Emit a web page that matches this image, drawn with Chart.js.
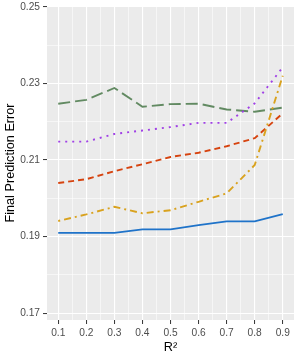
<!DOCTYPE html>
<html>
<head>
<meta charset="utf-8">
<script src="https://cdn.jsdelivr.net/npm/chart.js@4"></script>
<style>
  html, body { margin: 0; padding: 0; background: #fff; }
  canvas { display: block; }
</style>
</head>
<body>
<canvas id="fpeChart" width="300" height="360"></canvas>
<script>
// values
const r2 = [0.1, 0.2, 0.3, 0.4, 0.5, 0.6, 0.7, 0.8, 0.9];
const blueSolid = [0.1910, 0.1910, 0.1910, 0.1919, 0.1919, 0.1930, 0.1940, 0.1940, 0.1959];
const orangeDotDash = [0.1941, 0.1958, 0.1978, 0.1961, 0.1969, 0.1991, 0.2013, 0.2087, 0.2320];
const redDashed = [0.2040, 0.2050, 0.2071, 0.2089, 0.2108, 0.2119, 0.2136, 0.2157, 0.2222];
const purpleDotted = [0.2148, 0.2148, 0.2168, 0.2177, 0.2186, 0.2197, 0.2197, 0.2248, 0.2342];
const greenLongDash = [0.2247, 0.2257, 0.2288, 0.2239, 0.2246, 0.2247, 0.2232, 0.2226, 0.2237];

const xMajor = [0.1, 0.2, 0.3, 0.4, 0.5, 0.6, 0.7, 0.8, 0.9];
const xMajorLabels = ["0.1", "0.2", "0.3", "0.4", "0.5", "0.6", "0.7", "0.8", "0.9"];
const xMinor = [0.15, 0.25, 0.35, 0.45, 0.55, 0.65, 0.75, 0.85];
const yMajor = [0.17, 0.19, 0.21, 0.23, 0.25];
const yMajorLabels = ["0.17", "0.19", "0.21", "0.23", "0.25"];
const yMinor = [0.18, 0.20, 0.22, 0.24];

const toPoints = (ys) => r2.map((x, i) => ({ x: x, y: ys[i] }));

const isMajor = (list, v) => list.some((m) => Math.abs(m - v) < 1e-9);

const panelBg = {
  id: "panelBg",
  beforeDraw(chart) {
    const { ctx, chartArea: a } = chart;
    ctx.save();
    ctx.fillStyle = "#EBEBEB";
    ctx.fillRect(a.left, a.top, a.right - a.left, a.bottom - a.top);
    ctx.restore();
  },
};

const series = (data, color, dash) => ({
  data: toPoints(data),
  borderColor: color,
  borderWidth: 1.9,
  borderDash: dash,
  borderCapStyle: "butt",
  pointRadius: 0,
  tension: 0,
  fill: false,
});

new Chart(document.getElementById("fpeChart").getContext("2d"), {
  type: "line",
  data: {
    datasets: [
      series(blueSolid, "#1F73C9", []),
      series(orangeDotDash, "#D9A21E", [2, 4, 7, 4]),
      series(redDashed, "#D6430F", [6, 4]),
      series(purpleDotted, "#A040E6", [2, 5]),
      series(greenLongDash, "#628A62", [12, 5]),
    ],
  },
  plugins: [panelBg],
  options: {
    responsive: false,
    animation: false,
    layout: { padding: { left: 0, top: 6, right: 6, bottom: 0 } },
    plugins: { legend: { display: false }, tooltip: { enabled: false } },
    scales: {
      x: {
        type: "linear",
        min: 0.06,
        max: 0.94,
        afterFit: (scale) => {
          scale.height = 40;
          scale.paddingLeft = 0;
          scale.paddingRight = 0;
        },
        afterBuildTicks: (scale) => {
          scale.ticks = xMajor.concat(xMinor).sort((a, b) => a - b).map((v) => ({ value: v }));
        },
        border: { display: false },
        grid: {
          color: "#FFFFFF",
          lineWidth: (c) => (isMajor(xMajor, c.tick.value) ? 1.1 : 0.55),
          tickColor: (c) => (isMajor(xMajor, c.tick.value) ? "#333333" : "rgba(0,0,0,0)"),
          tickLength: 4,
          tickWidth: 1,
        },
        ticks: {
          autoSkip: false,
          maxRotation: 0,
          padding: 3,
          color: "#4D4D4D",
          font: { family: "'Liberation Sans', Arial, sans-serif", size: 10.2 },
          callback: (v) => {
            const i = xMajor.findIndex((m) => Math.abs(m - v) < 1e-9);
            return i >= 0 ? xMajorLabels[i] : "";
          },
        },
        title: {
          display: true,
          text: "R²",
          color: "#000000",
          padding: { top: 0, bottom: 5 },
          font: { family: "'Liberation Sans', Arial, sans-serif", size: 12.7 },
        },
      },
      y: {
        type: "linear",
        min: 0.16825,
        max: 0.2502,
        afterFit: (scale) => {
          scale.width = 47;
          scale.paddingTop = 0;
          scale.paddingBottom = 0;
        },
        afterBuildTicks: (scale) => {
          scale.ticks = yMajor.concat(yMinor).sort((a, b) => a - b).map((v) => ({ value: v }));
        },
        border: { display: false },
        grid: {
          color: "#FFFFFF",
          lineWidth: (c) => (isMajor(yMajor, c.tick.value) ? 1.1 : 0.55),
          tickColor: (c) => (isMajor(yMajor, c.tick.value) ? "#333333" : "rgba(0,0,0,0)"),
          tickLength: 4,
          tickWidth: 1,
        },
        ticks: {
          autoSkip: false,
          padding: 3,
          color: "#4D4D4D",
          font: { family: "'Liberation Sans', Arial, sans-serif", size: 10.2 },
          callback: (v) => {
            const i = yMajor.findIndex((m) => Math.abs(m - v) < 1e-9);
            return i >= 0 ? yMajorLabels[i] : "";
          },
        },
        title: {
          display: true,
          text: "Final Prediction Error",
          color: "#000000",
          padding: { top: 3, bottom: 0 },
          font: { family: "'Liberation Sans', Arial, sans-serif", size: 12.7 },
        },
      },
    },
  },
});
</script>
</body>
</html>
